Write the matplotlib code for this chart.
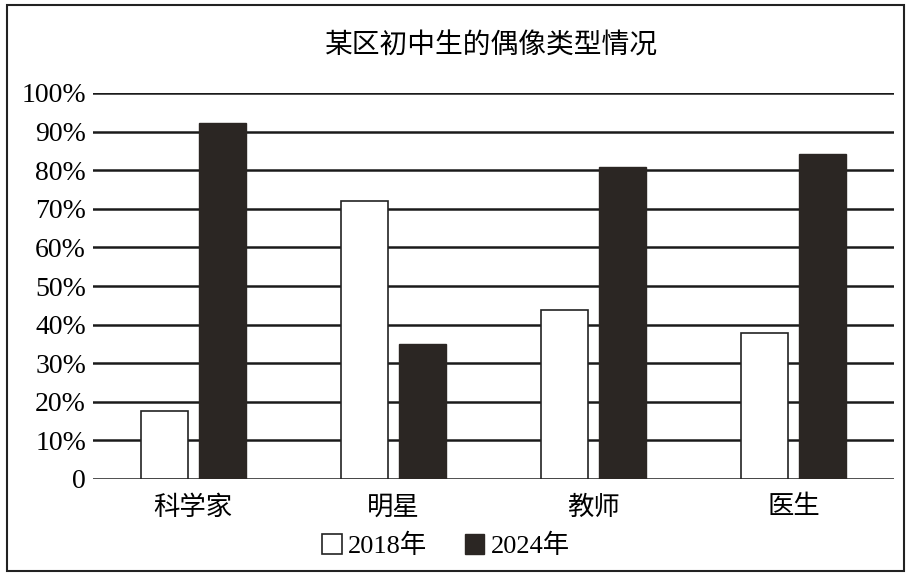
import numpy as np
import matplotlib
matplotlib.use('Agg')
import matplotlib.pyplot as plt
from matplotlib.patches import Rectangle, Patch

plt.rcParams['font.family'] = ['Liberation Serif', 'Noto Sans CJK SC']

categories = ['科学家', '明星', '教师', '医生']
vals_2018 = [17.6, 72.1, 43.8, 37.8]
vals_2024 = [92.1, 35.1, 80.7, 84.1]
yticks = [0, 10, 20, 30, 40, 50, 60, 70, 80, 90, 100]
ytick_labels = ['0'] + ['%d%%' % v for v in yticks[1:]]
title = '某区初中生的偶像类型情况'

W, H = 916, 578
fig = plt.figure(figsize=(W / 100, H / 100), dpi=100)
# axes in pixel coords: left 93, right 894, top 93, bottom 479
ax = fig.add_axes([93 / W, 1 - 479 / H, (894 - 93) / W, (479 - 93) / H])

x = np.arange(len(categories))
w = 0.234
dark = '#2b2623'
ax.bar(x - 0.145, vals_2018, w, color='white', edgecolor='#222222', linewidth=1.2, zorder=3)
ax.bar(x + 0.145, vals_2024, w, color=dark, edgecolor=dark, linewidth=1.0, zorder=3)

ax.set_xlim(-0.5, 3.5)
ax.set_ylim(0, 100)
ax.set_yticks(yticks)
ax.set_yticklabels(ytick_labels, fontsize=20)
ax.set_xticks(x)
ax.set_xticklabels(categories, fontsize=19)
ax.tick_params(axis='y', length=0, pad=5)
ax.tick_params(axis='x', length=0, pad=12)
ax.yaxis.grid(True, color='#1a1a1a', linewidth=1.8, zorder=1)
ax.set_axisbelow(True)
for s in ax.spines.values():
    s.set_visible(False)

fig.text(491 / W, 1 - 47 / H, title, ha='center', va='center', fontsize=20)

handles = [Patch(facecolor='white', edgecolor='#222222', linewidth=1.2, label='2018年'),
           Patch(facecolor=dark, edgecolor=dark, label='2024年')]
fig.legend(handles=handles, loc='center', bbox_to_anchor=(446 / W, 1 - 546 / H),
           ncol=2, frameon=False, fontsize=19, handlelength=0.75, handleheight=0.75,
           handletextpad=0.25, columnspacing=1.4)

# outer frame
fig.patches.append(Rectangle((7 / W, 1 - 571 / H), (904 - 7) / W, (571 - 5) / H,
                             transform=fig.transFigure, fill=False,
                             edgecolor='#222222', linewidth=1.5))

fig.savefig('out.png', dpi=100)
